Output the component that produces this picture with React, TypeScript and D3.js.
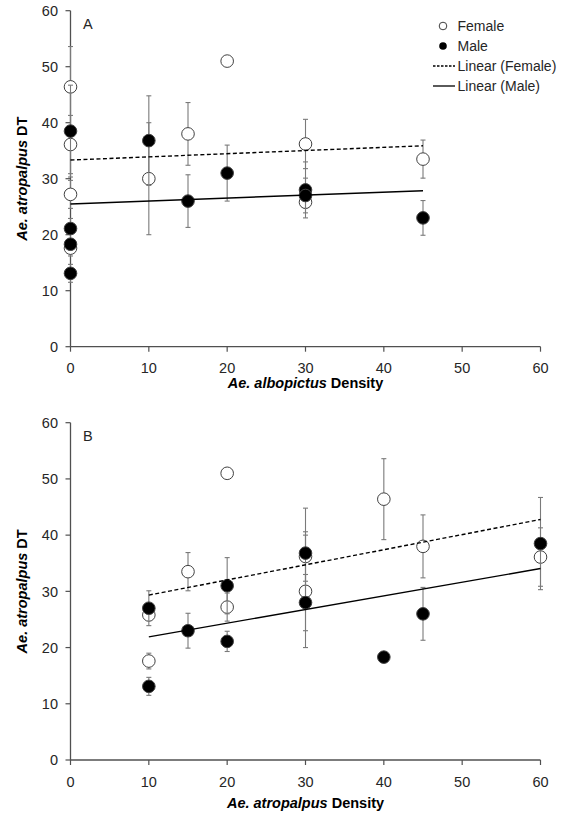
import React from 'react';
import * as d3 from 'd3';

// one entry per treatment: Ae. albopictus density, Ae. atropalpus density
const alboDensity = [0, 0, 0, 0, 10, 15, 20, 30, 30, 45];
const atroDensity = [10, 20, 40, 60, 30, 45, 20, 30, 10, 15];

const femaleDT = [17.6, 27.2, 46.4, 36.1, 30.0, 38.0, 51.0, 36.2, 25.8, 33.5];
const femaleErr = [1.4, 2.5, 7.2, 5.2, 10.0, 5.6, 0, 4.4, 1.0, 3.4];
const maleDT = [13.1, 21.1, 18.3, 38.5, 36.8, 26.0, 31.0, 28.0, 27.0, 23.0];
const maleErr = [1.6, 1.8, 0.3, 8.2, 8.0, 4.7, 5.0, 5.0, 3.1, 3.1];

const xTicks = [0, 10, 20, 30, 40, 50, 60];
const yTicks = [0, 10, 20, 30, 40, 50, 60];

const legendItems = ['Female', 'Male', 'Linear (Female)', 'Linear (Male)'];

const FONT = 'Liberation Sans, Arial, sans-serif';
const AXIS = '#505050';
const ERR = '#7a7a7a';

// ordinary least squares, drawn over the range of the data
function fit(xs: number[], ys: number[]) {
  const mx = d3.mean(xs)!;
  const my = d3.mean(ys)!;
  let sxy = 0;
  let sxx = 0;
  xs.forEach((x, i) => {
    sxy += (x - mx) * (ys[i] - my);
    sxx += (x - mx) * (x - mx);
  });
  const b = sxy / sxx;
  const a = my - b * mx;
  const [x0, x1] = d3.extent(xs) as [number, number];
  return [
    [x0, a + b * x0],
    [x1, a + b * x1],
  ];
}

interface PanelProps {
  xs: number[];
  letter: string;
  title: string;
  top: number;
  bottom: number;
  tickBase: number;
  titleBase: number;
  legend?: boolean;
}

function Panel({ xs, letter, title, top, bottom, tickBase, titleBase, legend }: PanelProps) {
  const left = 70.5;
  const right = 540.5;
  const x = d3.scaleLinear().domain([0, 60]).range([left, right]);
  const y = d3.scaleLinear().domain([0, 60]).range([bottom, top]);
  const line = d3.line<number[]>().x((d) => x(d[0])).y((d) => y(d[1]));

  const series = [
    { vals: femaleDT, errs: femaleErr, fill: '#ffffff', dash: '4,2.5' },
    { vals: maleDT, errs: maleErr, fill: '#000000', dash: undefined },
  ];

  return (
    <g>
      {/* axes */}
      <line x1={left} x2={right} y1={bottom} y2={bottom} stroke={AXIS} strokeWidth={1.3} />
      <line x1={left} x2={left} y1={top} y2={bottom} stroke={AXIS} strokeWidth={1.3} />
      {xTicks.map((t) => (
        <g key={'x' + t}>
          <line x1={x(t)} x2={x(t)} y1={bottom} y2={bottom + 5} stroke={AXIS} strokeWidth={1.2} />
          <text x={x(t)} y={tickBase} textAnchor="middle" fontSize={14.5} fill="#262626">
            {t}
          </text>
        </g>
      ))}
      {yTicks.map((t) => (
        <g key={'y' + t}>
          <line x1={left - 5} x2={left} y1={y(t)} y2={y(t)} stroke={AXIS} strokeWidth={1.2} />
          <text x={58} y={y(t)} dy="0.36em" textAnchor="end" fontSize={14.5} fill="#262626">
            {t}
          </text>
        </g>
      ))}
      <text x={83} y={top + 18} fontSize={14.5} fill="#262626">
        {letter}
      </text>

      {/* axis titles */}
      <text
        transform={`translate(27,${(top + bottom) / 2}) rotate(-90)`}
        textAnchor="middle"
        fontSize={14.5}
        fontWeight="bold"
        fill="#000"
      >
        <tspan fontStyle="italic">Ae. atropalpus</tspan> DT
      </text>
      <text x={(left + right) / 2} y={titleBase} textAnchor="middle" fontSize={14.5} fontWeight="bold" fill="#000">
        <tspan fontStyle="italic">{title}</tspan> Density
      </text>

      {/* error bars and markers */}
      {series.map((s, si) => (
        <g key={'s' + si}>
          {s.vals.map((v, i) =>
            s.errs[i] > 0 ? (
              <g key={'e' + i} stroke={ERR} strokeWidth={1.1}>
                <line x1={x(xs[i])} x2={x(xs[i])} y1={y(v - s.errs[i])} y2={y(v + s.errs[i])} />
                <line x1={x(xs[i]) - 2.5} x2={x(xs[i]) + 2.5} y1={y(v - s.errs[i])} y2={y(v - s.errs[i])} />
                <line x1={x(xs[i]) - 2.5} x2={x(xs[i]) + 2.5} y1={y(v + s.errs[i])} y2={y(v + s.errs[i])} />
              </g>
            ) : null
          )}
          {s.vals.map((v, i) => (
            <circle key={'c' + i} cx={x(xs[i])} cy={y(v)} r={6.3} fill={s.fill} stroke="#404040" strokeWidth={1} />
          ))}
        </g>
      ))}

      {/* linear trendlines */}
      {series.map((s, si) => (
        <path
          key={'t' + si}
          d={line(fit(xs, s.vals))!}
          fill="none"
          stroke="#000"
          strokeWidth={1.4}
          strokeDasharray={s.dash}
        />
      ))}

      {legend && (
        <g fontSize={14} fill="#262626">
          {legendItems.map((name, i) => {
            const ly = 26 + i * 20;
            return (
              <g key={name}>
                {i === 0 && <circle cx={443} cy={ly} r={3.8} fill="#fff" stroke="#404040" strokeWidth={1} />}
                {i === 1 && <circle cx={443} cy={ly} r={3.8} fill="#000" />}
                {i > 1 && (
                  <line
                    x1={433}
                    x2={455}
                    y1={ly}
                    y2={ly}
                    stroke="#000"
                    strokeWidth={1.3}
                    strokeDasharray={i === 2 ? '2.5,1.5' : undefined}
                  />
                )}
                <text x={457.5} y={ly} dy="0.36em">
                  {name}
                </text>
              </g>
            );
          })}
        </g>
      )}
    </g>
  );
}

export default function App() {
  return (
    <div style={{ position: 'absolute', left: 0, top: 0 }}>
      <svg width={561} height={817} fontFamily={FONT} style={{ display: 'block', background: '#fff' }}>
        <Panel
          xs={alboDensity}
          letter="A"
          title="Ae. albopictus"
          top={10.7}
          bottom={346.7}
          tickBase={373}
          titleBase={388}
          legend
        />
        <Panel
          xs={atroDensity}
          letter="B"
          title="Ae. atropalpus"
          top={422.7}
          bottom={760}
          tickBase={787}
          titleBase={808}
        />
      </svg>
    </div>
  );
}
